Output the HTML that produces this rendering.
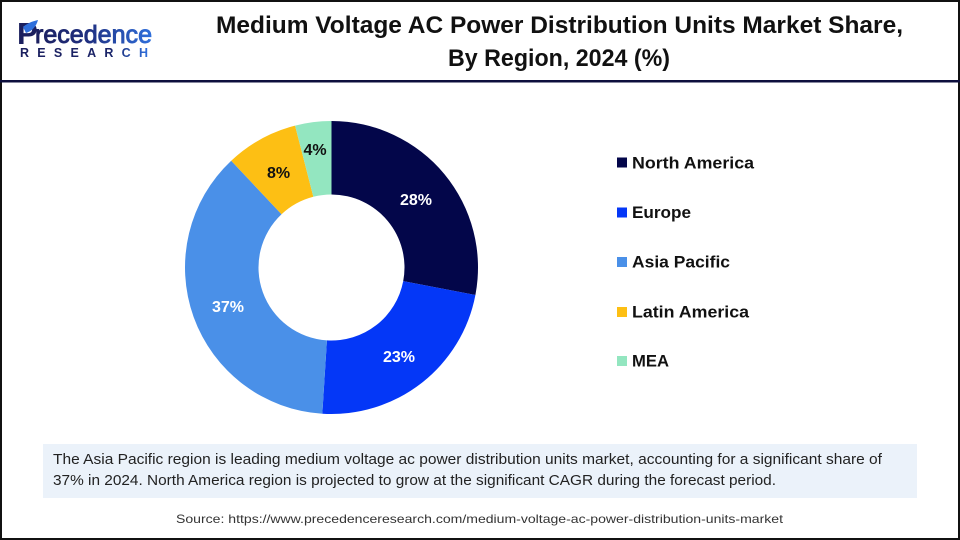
<!DOCTYPE html>
<html>
<head>
<meta charset="utf-8">
<style>
  html,body{margin:0;padding:0;background:#fff;}
  svg{display:block;}
  text{font-family:"Liberation Sans", Arial, sans-serif;}
</style>
</head>
<body>
<svg width="960" height="540" viewBox="0 0 960 540" xmlns="http://www.w3.org/2000/svg">
  <defs>
    <linearGradient id="lg" x1="35" y1="0" x2="152" y2="0" gradientUnits="userSpaceOnUse">
      <stop offset="0" stop-color="#1b1f5e"/>
      <stop offset="0.45" stop-color="#1f2f80"/>
      <stop offset="1" stop-color="#2f6fdc"/>
    </linearGradient>
    <linearGradient id="lg2" x1="20" y1="0" x2="148" y2="0" gradientUnits="userSpaceOnUse">
      <stop offset="0" stop-color="#1b1f5e"/>
      <stop offset="0.7" stop-color="#1b2468"/>
      <stop offset="1" stop-color="#2f6fdc"/>
    </linearGradient>
  </defs>
  <rect x="0" y="0" width="960" height="540" fill="#fff"/>
  <!-- outer border -->
  <rect x="1" y="1" width="958" height="538" fill="none" stroke="#111" stroke-width="2"/>
  <!-- header separator -->
  <rect x="0" y="80" width="960" height="2.5" fill="#0d0f3d"/>

  <!-- Logo -->
  <text x="17" y="44" font-size="31" font-weight="bold" fill="#1b1f5e">P</text>
  <path d="M23,27 C29,22 34,21 38,20 C36,27 32,31 26,33 Z" fill="#2f6fdc"/>
  <text x="35" y="43" font-size="25" fill="url(#lg)" stroke="url(#lg)" stroke-width="0.9" textLength="117" lengthAdjust="spacingAndGlyphs">recedence</text>
  <text x="20" y="57" font-size="12.5" font-weight="bold" fill="url(#lg2)" textLength="128" lengthAdjust="spacing">RESEARCH</text>

  <!-- Title -->
  <text x="216" y="33" font-size="24" font-weight="bold" fill="#111" textLength="687" lengthAdjust="spacingAndGlyphs">Medium Voltage AC Power Distribution Units Market Share,</text>
  <text x="448" y="66" font-size="24" font-weight="bold" fill="#111" textLength="222" lengthAdjust="spacingAndGlyphs">By Region, 2024 (%)</text>

  <!-- Donut -->
  <path d="M331.5,121 A146.5,146.5 0 0 1 475.41,294.95 L403.21,281.18 A73,73 0 0 0 331.5,194.5 Z" fill="#03064a"/>
  <path d="M475.41,294.95 A146.5,146.5 0 0 1 322.30,413.71 L326.92,340.36 A73,73 0 0 0 403.21,281.18 Z" fill="#0437f7"/>
  <path d="M322.30,413.71 A146.5,146.5 0 0 1 231.21,160.71 L281.53,214.29 A73,73 0 0 0 326.92,340.36 Z" fill="#4a90e8"/>
  <path d="M231.21,160.71 A146.5,146.5 0 0 1 295.07,125.60 L313.35,196.79 A73,73 0 0 0 281.53,214.29 Z" fill="#fdbf14"/>
  <path d="M295.07,125.60 A146.5,146.5 0 0 1 331.5,121 L331.5,194.5 A73,73 0 0 0 313.35,196.79 Z" fill="#93e6c0"/>

  <g font-size="16" font-weight="bold" text-anchor="middle">
    <text x="416" y="205" fill="#fff">28%</text>
    <text x="399" y="362" fill="#fff">23%</text>
    <text x="228" y="312" fill="#fff">37%</text>
    <text x="278.5" y="178" fill="#111">8%</text>
    <text x="315" y="155" fill="#111">4%</text>
  </g>

  <!-- Legend -->
  <rect x="617" y="157.5" width="10" height="10" fill="#03064a"/>
  <text x="632" y="168.3" font-size="16.5" font-weight="bold" fill="#111" textLength="122" lengthAdjust="spacingAndGlyphs">North America</text>
  <rect x="617" y="207.5" width="10" height="10" fill="#0437f7"/>
  <text x="632" y="218" font-size="16.5" font-weight="bold" fill="#111" textLength="59" lengthAdjust="spacingAndGlyphs">Europe</text>
  <rect x="617" y="257" width="10" height="10" fill="#4a90e8"/>
  <text x="632" y="267.7" font-size="16.5" font-weight="bold" fill="#111" textLength="98" lengthAdjust="spacingAndGlyphs">Asia Pacific</text>
  <rect x="617" y="307" width="10" height="10" fill="#fdbf14"/>
  <text x="632" y="317.7" font-size="16.5" font-weight="bold" fill="#111" textLength="117" lengthAdjust="spacingAndGlyphs">Latin America</text>
  <rect x="617" y="356" width="10" height="10" fill="#93e6c0"/>
  <text x="632" y="366.7" font-size="16.5" font-weight="bold" fill="#111" textLength="37" lengthAdjust="spacingAndGlyphs">MEA</text>

  <!-- Summary box -->
  <rect x="43" y="444" width="874" height="54" fill="#ebf2fa"/>
  <text x="53" y="464" font-size="15" fill="#222" textLength="829" lengthAdjust="spacingAndGlyphs">The Asia Pacific region is leading medium voltage ac power distribution units market, accounting for a significant share of</text>
  <text x="53" y="485" font-size="15" fill="#222" textLength="723" lengthAdjust="spacingAndGlyphs">37% in 2024. North America region is projected to grow at the significant CAGR during the forecast period.</text>

  <!-- Source -->
  <text x="176" y="523" font-size="12" fill="#333" textLength="607" lengthAdjust="spacingAndGlyphs">Source: https://www.precedenceresearch.com/medium-voltage-ac-power-distribution-units-market</text>
</svg>
</body>
</html>
